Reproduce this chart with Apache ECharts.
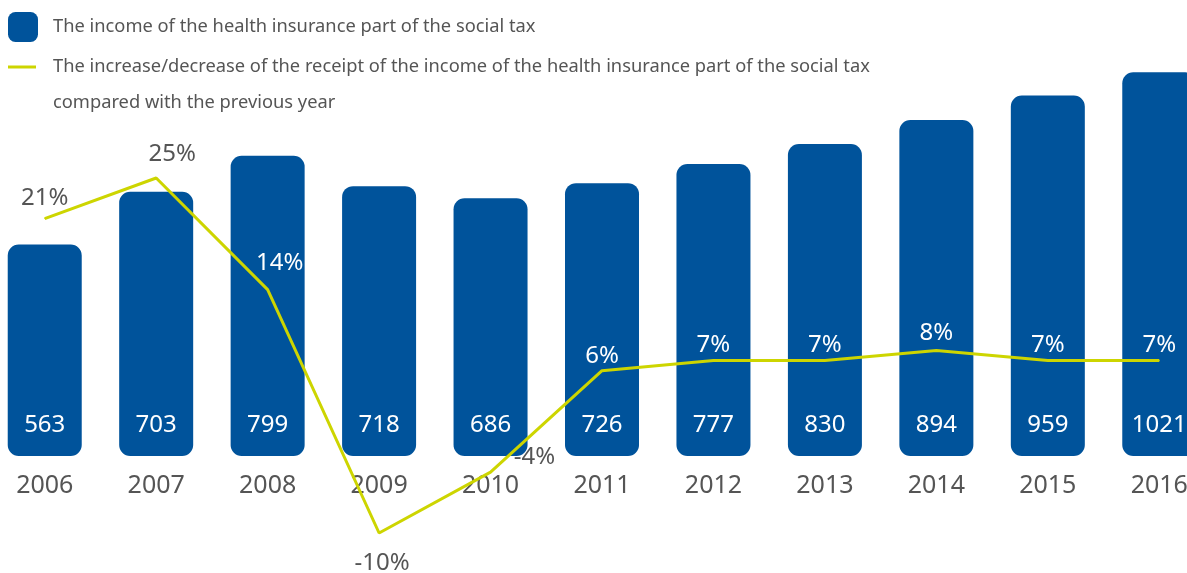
<!DOCTYPE html>
<html>
<head>
<meta charset="utf-8">
<script src="https://cdn.jsdelivr.net/npm/echarts@6/dist/echarts.min.js"></script>
<style>
  html, body { margin: 0; padding: 0; background: #ffffff; overflow: hidden; }
  #chart { width: 1187px; height: 573px; }
</style>
</head>
<body>
<div id="chart"></div>
<script>
// Health insurance part of the social tax, million euros, and yearly change (%)
const years = ['2006', '2007', '2008', '2009', '2010', '2011', '2012', '2013', '2014', '2015', '2016'];
const income = [563, 703, 799, 718, 686, 726, 777, 830, 894, 959, 1021];
const change = [21, 25, 14, -10, -4, 6, 7, 7, 8, 7, 7];

const incomeName = 'The income of the health insurance part of the social tax';
const changeName = 'The increase/decrease of the receipt of the income of the health insurance part of the social tax';
const changeNameLine2 = 'compared with the previous year';

const BLUE = '#00539b';
const LIME = '#cdd500';
const GREY = '#555555';
const FONT = 'Noto Sans';

// label placement for the change line (position, offset, colour)
const changeLabelStyle = [
  { position: 'top', offset: [0, -3], color: GREY },
  { position: 'top', offset: [16, -6], color: GREY },
  { position: 'top', offset: [12, -9], color: '#ffffff' },
  { position: 'bottom', offset: [3, 13], color: GREY },
  { position: 'top', offset: [44, 3], color: GREY },
  { position: 'top', offset: [0, 3], color: '#ffffff' },
  { position: 'top', offset: [0, 2], color: '#ffffff' },
  { position: 'top', offset: [0, 2], color: '#ffffff' },
  { position: 'top', offset: [0, 0], color: '#ffffff' },
  { position: 'top', offset: [0, 2], color: '#ffffff' },
  { position: 'top', offset: [0, 2], color: '#ffffff' }
];

const changeData = change.map((v, i) => ({
  value: v,
  label: changeLabelStyle[i]
}));

const chart = echarts.init(document.getElementById('chart'), null, { renderer: 'canvas' });

chart.setOption({
  animation: false,
  backgroundColor: '#ffffff',
  textStyle: { fontFamily: FONT },
  grid: [
    { left: -11, width: 1226, top: 5, bottom: 117, containLabel: false, outerBoundsMode: 'none' },
    { left: -11, width: 1226, top: 178, bottom: 40, containLabel: false, outerBoundsMode: 'none' }
  ],
  legend: [
    {
      data: [{ name: incomeName, icon: 'roundRect' }],
      left: 8,
      top: 12,
      padding: 0,
      itemWidth: 30,
      itemHeight: 30,
      textStyle: { fontFamily: FONT, fontSize: 18.3, color: GREY, padding: [0, 0, 0, 10] },
      selectedMode: false
    },
    {
      data: [{ name: changeName, icon: 'rect' }],
      left: 8,
      top: 13,
      padding: 0,
      itemWidth: 28,
      itemHeight: 3,
      // blank first line keeps the name level with the line icon
      formatter: (name) => '\n' + name + '\n' + changeNameLine2,
      textStyle: {
        fontFamily: FONT, fontSize: 18.3, color: GREY,
        lineHeight: 36, padding: [0, 0, 0, 12]
      },
      selectedMode: false
    }
  ],
  xAxis: [
    {
      type: 'category',
      gridIndex: 0,
      data: years,
      axisLine: { show: false },
      axisTick: { show: false },
      axisLabel: { color: GREY, fontSize: 25, fontFamily: FONT, margin: 17 }
    },
    {
      type: 'category',
      gridIndex: 1,
      data: years,
      show: false
    }
  ],
  yAxis: [
    { type: 'value', gridIndex: 0, min: 0, max: 1200, show: false, splitLine: { show: false } },
    { type: 'value', gridIndex: 1, min: -10, max: 25, show: false, splitLine: { show: false } }
  ],
  series: [
    {
      name: incomeName,
      type: 'bar',
      xAxisIndex: 0,
      yAxisIndex: 0,
      data: income,
      barWidth: 74,
      itemStyle: { color: BLUE, borderRadius: 11 },
      label: {
        show: true,
        position: 'insideBottom',
        distance: 19,
        color: '#ffffff',
        fontSize: 24,
        fontFamily: FONT
      },
      z: 2
    },
    {
      name: changeName,
      type: 'line',
      xAxisIndex: 1,
      yAxisIndex: 1,
      data: changeData,
      clip: false,
      symbol: 'circle',
      symbolSize: 1,
      showSymbol: true,
      lineStyle: { color: LIME, width: 3 },
      itemStyle: { color: LIME },
      label: {
        show: true,
        distance: 5,
        fontSize: 24,
        fontFamily: FONT,
        formatter: (p) => p.value + '%'
      },
      z: 3
    }
  ]
});
</script>
</body>
</html>
